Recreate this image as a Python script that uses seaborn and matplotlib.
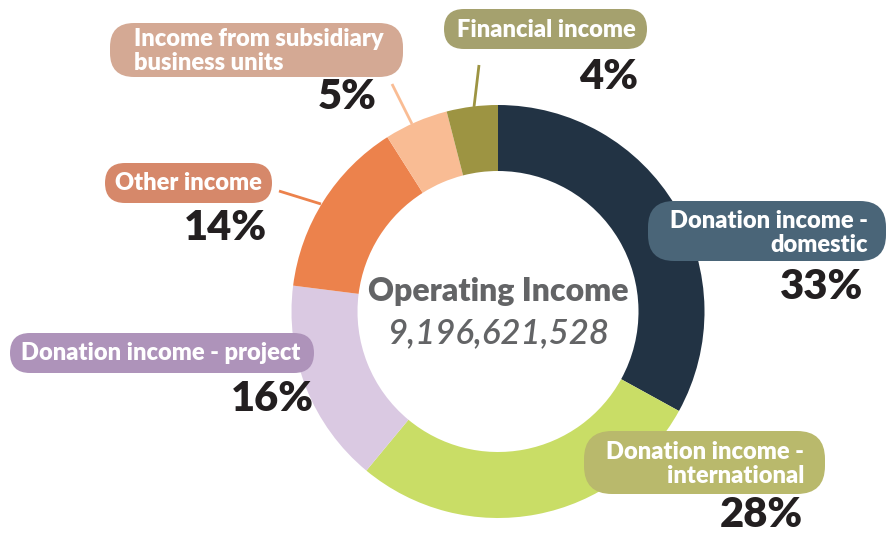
import matplotlib
matplotlib.use("Agg")
import matplotlib.pyplot as plt
from matplotlib.patches import FancyBboxPatch
import seaborn as sns

# chart data
categories = ["Donation income - domestic", "Donation income - international",
              "Donation income - project", "Other income",
              "Income from subsidiary business units", "Financial income"]
shares = [33, 28, 16, 14, 5, 4]
box_labels = ["Donation income -\ndomestic", "Donation income -\ninternational",
              "Donation income - project", "Other income",
              "Income from subsidiary\nbusiness units", "Financial income"]
total_label = "Operating Income"
total_value = "9,196,621,528"

slice_colors = sns.color_palette(["#223344", "#C9DD66", "#DAC9E2", "#EC824C", "#F9BC94", "#9D9442"])
box_colors = ["#4A6578", "#B9B96C", "#AE93BA", "#D6886A", "#D4A994", "#A5A16E"]

sns.set_style("white")
plt.rcParams["font.family"] = ["Lato", "DejaVu Sans"]

W, H = 886, 535
fig = plt.figure(figsize=(W / 100, H / 100), dpi=100)
ax = fig.add_axes([0, 0, 1, 1])

def py(y):
    # pixel row -> data y (axis points up)
    return H - y

cx, cy, r_out, ring = 498, 311.5, 206.5, 66
ax.pie(shares, colors=slice_colors, startangle=90, counterclock=False,
       radius=r_out, center=(cx, py(cy)),
       wedgeprops=dict(width=ring, linewidth=0))

# layout for each label: box (x0, y0, x1, y1), text anchor, pct anchor, leader line
layout = [
    dict(box=(648, 201, 886, 261), rs=26, txt=(868, 233, "right"), pct=(863, 287), line=None),
    dict(box=(584, 431, 825, 494), rs=28, txt=(804, 464, "right"), pct=(803, 515), line=None),
    dict(box=(10, 333, 314, 373), rs=20, txt=(161, 353, "center"), pct=(314, 399), line=None),
    dict(box=(105, 163, 272, 203), rs=20, txt=(188, 183, "center"), pct=(267, 228),
         line=((279, 191), (321, 204))),
    dict(box=(110, 23, 403, 77), rs=24, txt=(134, 51, "left"), pct=(377, 97),
         line=((392, 84), (412, 124))),
    dict(box=(444, 9, 647, 49), rs=20, txt=(546, 30, "center"), pct=(638, 77),
         line=((479, 65), (474, 107))),
]

for lab, share, bc, sc, lay in zip(box_labels, shares, box_colors, slice_colors, layout):
    x0, y0, x1, y1 = lay["box"]
    ax.add_patch(FancyBboxPatch((x0, py(y1)), x1 - x0, y1 - y0,
                                boxstyle=f"round,pad=0,rounding_size={lay['rs']}",
                                fc=bc, ec="none", zorder=3))
    tx, ty, ha = lay["txt"]
    ax.text(tx, py(ty), lab, ha=ha, va="center", multialignment=ha,
            fontsize=17, fontweight="heavy", color="white", linespacing=1.1, zorder=4)
    px, pyy = lay["pct"]
    ax.text(px, py(pyy), f"{share}%", ha="right", va="center",
            fontsize=30, fontweight="heavy", color="#231F20", zorder=4)
    if lay["line"] is not None:
        (lx0, ly0), (lx1, ly1) = lay["line"]
        ax.plot([lx0, lx1], [py(ly0), py(ly1)], color=sc, lw=2, zorder=2,
                solid_capstyle="butt")

ax.text(cx, py(291), total_label, ha="center", va="center",
        fontsize=23, fontweight="heavy", color="#636466")
ax.text(cx, py(333), total_value, ha="center", va="center",
        fontsize=25, fontstyle="italic", fontweight="semibold", color="#636466")

ax.set_xlim(0, W)
ax.set_ylim(0, H)
ax.set_aspect("equal")
ax.axis("off")

fig.savefig("out.png", dpi=100, facecolor="white")
